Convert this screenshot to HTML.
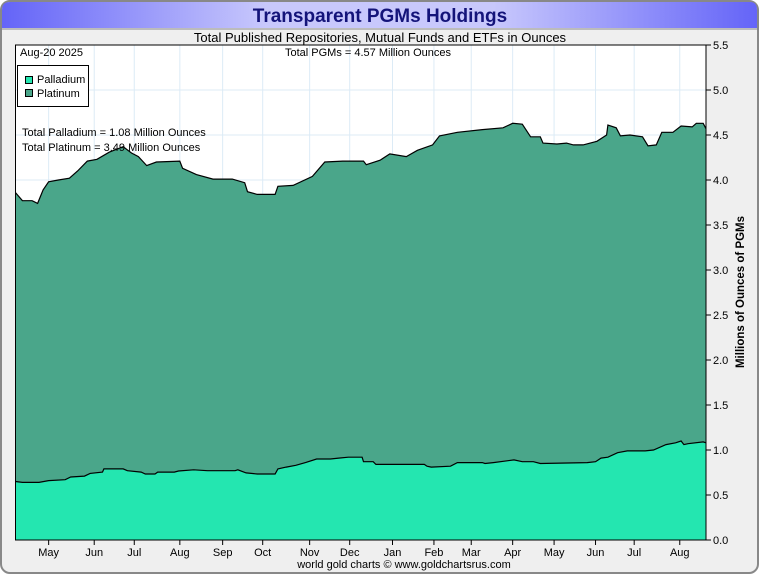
<!DOCTYPE html>
<html><head><meta charset="utf-8"><style>
body{margin:0;width:760px;height:575px;background:#fff;font-family:"Liberation Sans",sans-serif;overflow:hidden}
</style></head><body>
<svg width="760" height="575" xmlns="http://www.w3.org/2000/svg" id="chart" font-family="Liberation Sans, sans-serif">
<defs><linearGradient id="tg" x1="0" x2="1" y1="0" y2="0">
<stop offset="0" stop-color="#6464f8"/><stop offset="0.35" stop-color="#c8c8fc"/><stop offset="0.65" stop-color="#c8c8fc"/><stop offset="1" stop-color="#6464f8"/></linearGradient></defs>
<rect x="1" y="1" width="757" height="572" rx="9" fill="#efefef" stroke="#888" stroke-width="2"/>
<path d="M2 28 L2 10 Q2 2 10 2 L750 2 Q757 2 757 10 L757 28 Z" fill="url(#tg)"/>
<line x1="2" y1="29" x2="757" y2="29" stroke="#888" stroke-width="1"/>
<text x="380" y="22" text-anchor="middle" font-size="19" font-weight="bold" fill="#14147a">Transparent PGMs Holdings</text>
<text x="380" y="42" text-anchor="middle" font-size="13" fill="#000">Total Published Repositories, Mutual Funds and ETFs in Ounces</text>
<rect x="15.5" y="45" width="690.5" height="495" fill="#fff"/>
<g id="grid"></g>
<g id="series"></g>
<rect x="15.5" y="45" width="690.5" height="495" fill="none" stroke="#000" stroke-width="1"/>
<g id="axes"></g>
<text x="20" y="56" font-size="11">Aug-20  2025</text>
<text x="368" y="56" text-anchor="middle" font-size="11">Total PGMs = 4.57 Million Ounces</text>
<g>
<rect x="17.5" y="65.5" width="71" height="41" fill="#fff" stroke="#000"/>
<g><rect x="25.5" y="76.5" width="7" height="7" fill="#24e6b0" stroke="#000"/><text x="37" y="83" font-size="11">Palladium</text></g>
<g><rect x="25.5" y="89.5" width="7" height="7" fill="#4aa68a" stroke="#000"/><text x="37" y="97" font-size="11">Platinum</text></g>
</g>
<text x="22" y="136" font-size="11">Total Palladium = 1.08 Million Ounces</text>
<text x="22" y="151" font-size="11">Total Platinum = 3.49 Million Ounces</text>
<text transform="translate(744,292) rotate(-90)" text-anchor="middle" font-size="11.5" font-weight="bold">Millions of Ounces of PGMs</text>
<text x="404" y="568" text-anchor="middle" font-size="11">world gold charts © www.goldchartsrus.com</text>
</svg>
<script>
// Data: day offsets from Apr 7 2024, values in millions of ounces
const totalDays=[0,5,12,16,20,24,31,39,45,52,59,68,78,84,89,95,102,119,121,131,143,157,166,168,175,188,190,201,215,224,237,252,254,264,271,283,291,302,307,320,338,353,360,367,373,380,382,392,399,404,411,421,428,429,435,438,445,454,458,464,468,476,482,490,493,498,500];
const totalVals=[3.86,3.77,3.77,3.74,3.89,3.98,4.00,4.02,4.10,4.21,4.23,4.31,4.37,4.30,4.26,4.16,4.20,4.21,4.13,4.06,4.01,4.01,3.97,3.87,3.84,3.84,3.93,3.94,4.04,4.20,4.21,4.21,4.17,4.22,4.29,4.26,4.33,4.39,4.49,4.53,4.56,4.58,4.63,4.62,4.48,4.48,4.41,4.40,4.41,4.39,4.39,4.43,4.50,4.61,4.58,4.49,4.50,4.48,4.38,4.39,4.53,4.53,4.60,4.59,4.63,4.63,4.57];
const pallDays=[0,5,17,24,36,40,50,54,63,64,78,81,91,94,101,103,115,118,129,139,159,161,167,175,188,190,196,203,210,218,228,234,241,251,252,259,261,296,298,301,315,320,338,340,346,361,367,375,380,414,420,424,429,436,443,456,462,471,478,482,484,487,498,500];
const pallVals=[0.65,0.64,0.64,0.66,0.67,0.70,0.71,0.74,0.755,0.79,0.79,0.77,0.755,0.733,0.733,0.755,0.755,0.767,0.78,0.77,0.77,0.78,0.745,0.733,0.733,0.79,0.81,0.83,0.86,0.90,0.90,0.91,0.92,0.92,0.87,0.87,0.84,0.84,0.82,0.81,0.82,0.86,0.86,0.85,0.86,0.89,0.87,0.87,0.85,0.86,0.87,0.91,0.92,0.97,0.99,0.99,1.0,1.06,1.08,1.10,1.06,1.07,1.09,1.08];
const monthLabels=["May","Jun","Jul","Aug","Sep","Oct","Nov","Dec","Jan","Feb","Mar","Apr","May","Jun","Jul","Aug"];
const monthDays=[24,57,86,119,150,179,213,242,273,303,330,360,390,420,448,481];
const yTicks=[0,0.5,1,1.5,2,2.5,3,3.5,4,4.5,5,5.5];

const X0=15.5,X1=706,Y0=540,Y1=45,DMAX=500,VMAX=5.5;
const sx=d=>X0+d*(X1-X0)/DMAX;
const sy=v=>Y0-v*(Y0-Y1)/VMAX;
const NS="http://www.w3.org/2000/svg";
function mk(tag,attrs,parent){const e=document.createElementNS(NS,tag);for(const k in attrs)e.setAttribute(k,attrs[k]);parent.appendChild(e);return e;}
const grid=document.getElementById('grid'),series=document.getElementById('series'),axes=document.getElementById('axes');
yTicks.forEach(v=>{
  const g=mk('line',{x1:X0,x2:X1,y1:sy(v),y2:sy(v),stroke:'#dcebf6','stroke-width':1},grid);
  
  
  const t=mk('line',{x1:X1,x2:X1+5,y1:sy(v),y2:sy(v),stroke:'#000'},axes);
  
  
  const l=mk('text',{x:X1+7,y:sy(v)+4,'font-size':11},axes);
  l.textContent=v.toFixed(1);
  
  
});
monthDays.forEach((d,i)=>{
  const x=sx(d);
  const g=mk('line',{x1:x,x2:x,y1:Y1,y2:Y0,stroke:'#dcebf6','stroke-width':1},grid);
  
  
  const t=mk('line',{x1:x,x2:x,y1:Y0,y2:Y0+5,stroke:'#000'},axes);
  
  
  const l=mk('text',{x:x,y:Y0+16,'font-size':11,'text-anchor':'middle'},axes);
  l.textContent=monthLabels[i];
  
  
});
function pts(days,vals){return days.map((d,i)=>sx(d).toFixed(1)+','+sy(vals[i]).toFixed(1)).join(' ');}
const tp=pts(totalDays,totalVals),pp=pts(pallDays,pallVals);
const plat=mk('polygon',{points:sx(0)+','+Y0+' '+tp+' '+sx(DMAX)+','+Y0,fill:'#4aa68a'},series);


const pall=mk('polygon',{points:sx(0)+','+Y0+' '+pp+' '+sx(DMAX)+','+Y0,fill:'#24e6b0'},series);


const tl=mk('polyline',{points:tp,fill:'none',stroke:'#000','stroke-width':1.2},series);


const pl=mk('polyline',{points:pp,fill:'none',stroke:'#000','stroke-width':1.2},series);


</script>
</body></html>
